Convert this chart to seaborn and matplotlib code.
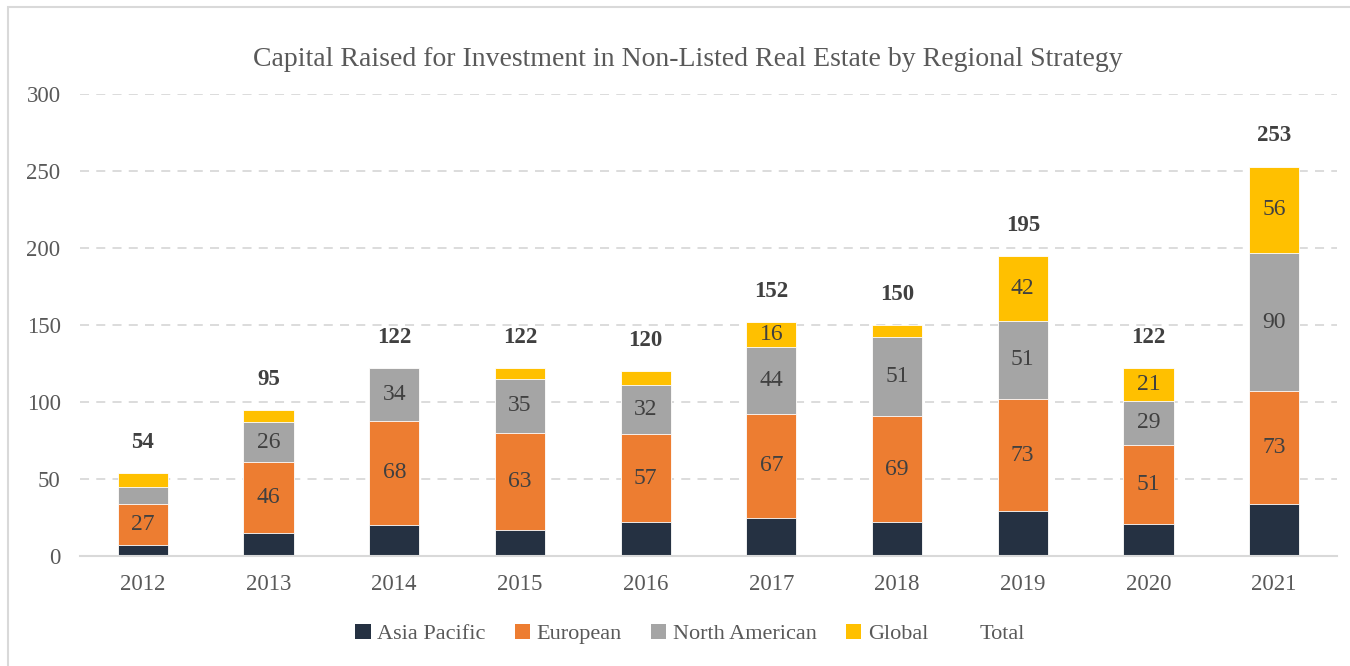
import numpy as np
import pandas as pd
import seaborn as sns
import matplotlib.pyplot as plt
from matplotlib.patches import Patch, Rectangle

years = ['2012', '2013', '2014', '2015', '2016', '2017', '2018', '2019', '2020', '2021']
asia_pacific = [7, 15, 20, 17, 22, 25, 22, 29, 21, 34]
european = [27, 46, 68, 63, 57, 67, 69, 73, 51, 73]
north_american = [11, 26, 34, 35, 32, 44, 51, 51, 29, 90]
global_ = [9, 8, 0, 7, 9, 16, 8, 42, 21, 56]
totals = [54, 95, 122, 122, 120, 152, 150, 195, 122, 253]

series_names = ['Asia Pacific', 'European', 'North American', 'Global']
series_colors = ['#253142', '#ED7D31', '#A5A5A5', '#FFC000']

sns.set_style("white")
plt.rcParams['font.family'] = ['Liberation Serif', 'DejaVu Serif']
text_col = '#595959'

df = pd.DataFrame({'Year': years, 'Asia Pacific': asia_pacific, 'European': european,
                   'North American': north_american, 'Global': global_})
cum = df[series_names].cumsum(axis=1)

fig = plt.figure(figsize=(13.5, 6.66), dpi=100)
ax = fig.add_axes([80 / 1350, 1 - 556 / 666, (1337 - 80) / 1350, (556 - 94.3) / 666])

# stacked bars: draw cumulative heights from top series down
for name, color in reversed(list(zip(series_names, series_colors))):
    sns.barplot(x=df['Year'], y=cum[name], color=color, width=0.4, ax=ax,
                edgecolor='white', linewidth=0.6, saturation=1, zorder=3)

# segment labels
for i in range(len(years)):
    for j, name in enumerate(series_names):
        val = df[name][i]
        if j == 0 or val < 12:
            continue
        mid = cum[name][i] - val / 2
        ax.text(i, mid, str(val), ha='center', va='center', fontsize=17,
                color='#404040', zorder=5)
    ax.text(i, totals[i] + 20, str(totals[i]), ha='center', va='center',
            fontsize=16.5, fontweight='bold', color='#404040', zorder=5)

ax.set_ylim(0, 300)
ax.set_xlim(-0.5, len(years) - 0.5)
ax.set_yticks([0, 50, 100, 150, 200, 250, 300])
ax.yaxis.grid(True, color='#D9D9D9', linestyle=(0, (5, 4)), linewidth=1.3, zorder=0)
ax.set_axisbelow(True)
for s in ['top', 'right', 'left']:
    ax.spines[s].set_visible(False)
ax.spines['bottom'].set_color('#D9D9D9')
ax.spines['bottom'].set_linewidth(1.5)
ax.spines['bottom'].set_zorder(4)
ax.tick_params(axis='both', length=0, labelsize=16.5, labelcolor=text_col)
ax.tick_params(axis='x', pad=13)
ax.tick_params(axis='y', pad=14)
ax.set_xlabel('')
ax.set_ylabel('')

fig.text(688 / 1350, 1 - 59 / 666,
         'Capital Raised for Investment in Non-Listed Real Estate by Regional Strategy',
         ha='center', va='center', fontsize=20, color=text_col)

handles = [Patch(facecolor=c, edgecolor='none') for c in series_colors]
handles.append(Patch(facecolor='none', edgecolor='none'))
fig.legend(handles, series_names + ['Total'], loc='center', ncol=5,
           bbox_to_anchor=(690 / 1350, 1 - 634 / 666), frameon=False,
           fontsize=16, labelcolor=text_col, handlelength=0.7, handleheight=0.7,
           handletextpad=0.3, columnspacing=1.3)

fig.patches.append(Rectangle((8 / 1350, -0.1), 1.2, 1.1 - 7 / 666, transform=fig.transFigure,
                             fill=False, edgecolor='#D9D9D9', linewidth=1.5))

fig.savefig('out.png', dpi=100)
